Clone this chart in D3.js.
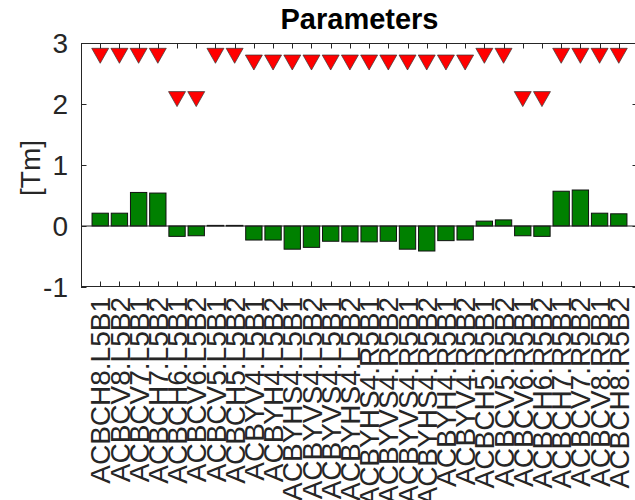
<!DOCTYPE html>
<html>
<head>
<meta charset="utf-8">
<script src="https://cdn.jsdelivr.net/npm/d3@7"></script>
<style>
  html, body { margin: 0; padding: 0; background: #fff; }
  svg text { font-family: "Liberation Sans", Arial, Helvetica, sans-serif; fill: #262626; }
</style>
</head>
<body>
<svg id="chart" width="635" height="500"></svg>
<script>
// Corrector names, left side of IP5 then right side
const magnets = [
  "ACBCH8.L5B1", "ACBCV8.L5B2", "ACBCV7.L5B1", "ACBCH7.L5B2",
  "ACBCH6.L5B1", "ACBCV6.L5B2", "ACBCV5.L5B1", "ACBCH5.L5B2",
  "ACBYV4.L5B1", "ACBYH4.L5B2", "ACBYHS4.L5B1", "ACBYVS4.L5B2",
  "ACBYVS4.L5B1", "ACBYHS4.L5B2", "ACBYHS4.R5B1", "ACBYVS4.R5B2",
  "ACBYVS4.R5B1", "ACBYHS4.R5B2", "ACBYH4.R5B1", "ACBYV4.R5B2",
  "ACBCH5.R5B1", "ACBCV5.R5B2", "ACBCV6.R5B1", "ACBCH6.R5B2",
  "ACBCH7.R5B1", "ACBCV7.R5B2", "ACBCV8.R5B1", "ACBCH8.R5B2"
];

// Integrated strength per corrector [Tm]
const strength = [
  0.21, 0.21, 0.55, 0.54,
  -0.17, -0.16, 0.01, 0.01,
  -0.23, -0.23, -0.38, -0.35,
  -0.25, -0.26, -0.26, -0.25,
  -0.38, -0.41, -0.24, -0.23,
  0.08, 0.10, -0.16, -0.17,
  0.57, 0.59, 0.21, 0.20
];

// Maximum strength per corrector [Tm]
const limit = [
  2.79, 2.79, 2.79, 2.79,
  2.08, 2.08, 2.79, 2.79,
  2.68, 2.68, 2.68, 2.68,
  2.68, 2.68, 2.68, 2.68,
  2.68, 2.68, 2.68, 2.68,
  2.79, 2.79, 2.08, 2.08,
  2.79, 2.79, 2.79, 2.79
];

const yTicks = [-1, 0, 1, 2, 3];

const svg = d3.select("#chart");
const plotL = 81, plotR = 638, plotT = 43, plotB = 287;
const ink = "#262626";

const x = d3.scaleLinear().domain([0, magnets.length + 1]).range([plotL, plotR]);
const y = d3.scaleLinear().domain([-1, 3]).range([plotB, plotT]);
const step = x(1) - x(0);
const barW = step * 0.85;

// bars
svg.append("g").selectAll("rect")
  .data(strength)
  .join("rect")
  .attr("x", (d, i) => x(i + 1) - barW / 2)
  .attr("width", barW)
  .attr("y", d => y(Math.max(0, d)))
  .attr("height", d => Math.abs(y(d) - y(0)))
  .attr("fill", "#008000")
  .attr("stroke", "#111")
  .attr("stroke-width", 1);

// zero baseline
svg.append("line")
  .attr("x1", plotL).attr("x2", plotR)
  .attr("y1", y(0)).attr("y2", y(0))
  .attr("stroke", "#222").attr("stroke-width", 1);

// limit markers (downward triangles)
const tw = 17, th = 15;
svg.append("g").selectAll("path")
  .data(limit)
  .join("path")
  .attr("d", (d, i) => {
    const cx = x(i + 1), cy = y(d);
    return `M${cx - tw / 2},${cy - th / 2}L${cx + tw / 2},${cy - th / 2}L${cx},${cy + th / 2}Z`;
  })
  .attr("fill", "#ff0000")
  .attr("stroke", "#333")
  .attr("stroke-width", 0.7);

// frame
const frame = svg.append("g").attr("fill", "none").attr("stroke", ink).attr("stroke-width", 1);
frame.append("rect")
  .attr("x", plotL + 0.5).attr("y", plotT + 0.5)
  .attr("width", plotR - plotL - 1).attr("height", plotB - plotT - 1);

// x ticks top and bottom, pointing inward
const tl = 5.5;
magnets.forEach((m, i) => {
  const xi = Math.round(x(i + 1)) + 0.5;
  frame.append("line").attr("x1", xi).attr("x2", xi).attr("y1", plotB).attr("y2", plotB - tl);
  frame.append("line").attr("x1", xi).attr("x2", xi).attr("y1", plotT).attr("y2", plotT + tl);
});
// y ticks left and right
yTicks.forEach(t => {
  const yi = Math.round(y(t)) + 0.5;
  frame.append("line").attr("x1", plotL).attr("x2", plotL + tl).attr("y1", yi).attr("y2", yi);
  frame.append("line").attr("x1", plotR).attr("x2", plotR - tl).attr("y1", yi).attr("y2", yi);
});

// y tick labels
svg.append("g").selectAll("text")
  .data(yTicks)
  .join("text")
  .attr("x", plotL - 13)
  .attr("y", d => y(d))
  .attr("dy", "0.36em")
  .attr("text-anchor", "end")
  .attr("font-size", 28)
  .text(d => d < 0 ? "-" + Math.abs(d) : d);

// x tick labels, rotated
svg.append("g").selectAll("text")
  .data(magnets)
  .join("text")
  .attr("transform", (d, i) => `translate(${x(i + 1)},${plotB + 10}) rotate(-90)`)
  .attr("dy", "0.36em")
  .attr("text-anchor", "end")
  .attr("font-size", 28)
  .text(d => d);

// axis label
svg.append("text")
  .attr("transform", `translate(30,${(plotT + plotB) / 2 + 3}) rotate(-90)`)
  .attr("text-anchor", "middle")
  .attr("dy", "0.36em")
  .attr("font-size", 28)
  .text("[Tm]");

// title
svg.append("text")
  .attr("x", (plotL + plotR) / 2)
  .attr("y", 29)
  .attr("text-anchor", "middle")
  .attr("font-size", 29)
  .attr("font-weight", "bold")
  .style("fill", "#000")
  .text("Parameters");
</script>
</body>
</html>
